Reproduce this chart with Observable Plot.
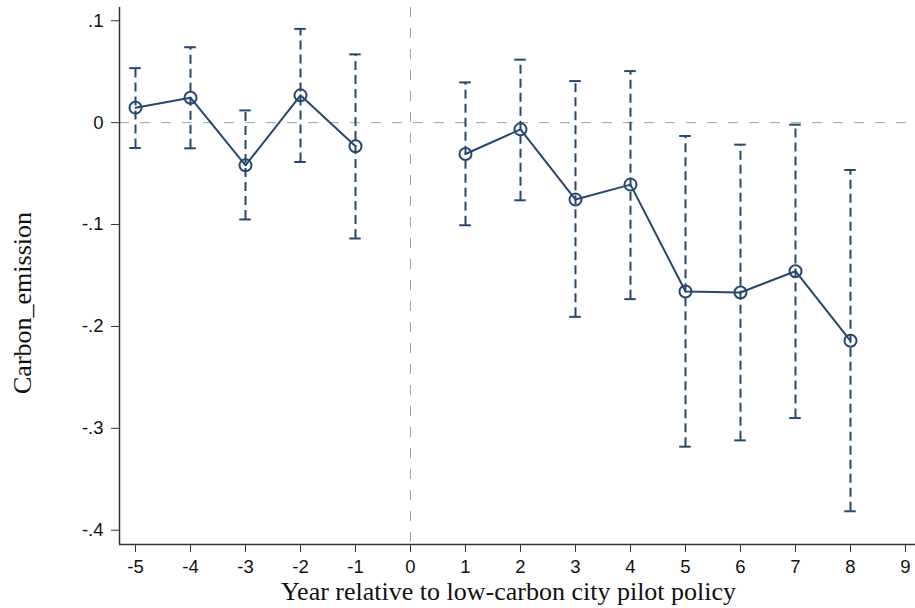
<!DOCTYPE html>
<html>
<head>
<meta charset="utf-8">
<script src="https://cdn.jsdelivr.net/npm/d3@7"></script>
<script src="https://cdn.jsdelivr.net/npm/@observablehq/plot@0.6"></script>
<style>
  html, body { margin: 0; padding: 0; background: #fff; }
  #chart g[aria-label="x-axis tick label"],
  #chart g[aria-label="y-axis tick label"] { font-size: 18.5px; font-family: 'Liberation Sans', Arial, sans-serif; }
</style>
</head>
<body>
<div id="chart"></div>
<script>
// Event-study estimates
const years    = [-5, -4, -3, -2, -1, 1, 2, 3, 4, 5, 6, 7, 8];
const estimate = [0.0147, 0.0245, -0.0419, 0.0268, -0.0232, -0.0308, -0.0066, -0.0755, -0.0608, -0.1657, -0.1667, -0.1458, -0.2141];
const ciUpper  = [0.0535, 0.0740, 0.0120, 0.0920, 0.0670, 0.0395, 0.0618, 0.0408, 0.0506, -0.0131, -0.0216, -0.0020, -0.0465];
const ciLower  = [-0.0249, -0.0252, -0.0950, -0.0386, -0.1137, -0.1007, -0.0762, -0.1906, -0.1732, -0.3180, -0.3118, -0.2899, -0.3814];

const xTicks = [-5, -4, -3, -2, -1, 0, 1, 2, 3, 4, 5, 6, 7, 8, 9];
const yTicks = [0.1, 0, -0.1, -0.2, -0.3, -0.4];
const xDomain = [-5.291, 9.182];
const yDomain = [-0.414, 0.113];
const xTitle = "Year relative to low-carbon city pilot policy";
const yTitle = "Carbon_emission";

const data = years.map((y, i) => ({
  year: y, est: estimate[i], hi: ciUpper[i], lo: ciLower[i],
  period: y < 0 ? "pre" : "post"
}));

const navy = "#26476e";
const refColor = "#8fab9d";
const capHalf = 0.105;
const fmtY = d => d === 0 ? "0" : d.toFixed(1).replace("0.", ".");
const serif = "'Liberation Serif', 'Times New Roman', serif";

const chart = Plot.plot({
  width: 915,
  height: 608,
  marginLeft: 119,
  marginRight: 0,
  marginTop: 7,
  marginBottom: 64,
  style: { fontFamily: "'Liberation Sans', Arial, sans-serif", fontSize: "18.5px", background: "#fff" },
  x: { domain: xDomain, label: null },
  y: { domain: yDomain, label: null },
  marks: [
    Plot.ruleY([0], { stroke: refColor, strokeWidth: 1, strokeDasharray: "10,11" }),
    Plot.ruleX([0], { stroke: refColor, strokeWidth: 1, strokeDasharray: "10,11" }),
    // axis lines
    Plot.ruleX([xDomain[0]], { stroke: "#333", strokeWidth: 1.5 }),
    Plot.ruleY([yDomain[0]], { stroke: "#333", strokeWidth: 1.5 }),
    Plot.axisY({ ticks: yTicks, tickFormat: fmtY, tickSize: 8, tickPadding: 8, fontSize: 18.5, stroke: "#333", fill: "#111", label: null }),
    Plot.axisX({ ticks: xTicks, tickFormat: d => String(d), tickSize: 8, tickPadding: 7, fontSize: 18.5, stroke: "#333", fill: "#111", label: null }),
    // CI bars
    Plot.ruleX(data, { x: "year", y1: "lo", y2: "hi", stroke: navy, strokeWidth: 2, strokeDasharray: "9,5" }),
    Plot.ruleY(data, { y: "hi", x1: d => d.year - capHalf, x2: d => d.year + capHalf, stroke: navy, strokeWidth: 2 }),
    Plot.ruleY(data, { y: "lo", x1: d => d.year - capHalf, x2: d => d.year + capHalf, stroke: navy, strokeWidth: 2 }),
    // point estimates
    Plot.line(data, { x: "year", y: "est", z: "period", stroke: navy, strokeWidth: 2 }),
    Plot.dot(data, { x: "year", y: "est", r: 6, stroke: navy, strokeWidth: 2, fill: "none" }),
    // titles
    Plot.text([xTitle], { frameAnchor: "bottom", textAnchor: "middle", dx: -9, dy: 47, fontFamily: serif, fontSize: 26, fill: "#111", lineAnchor: "middle" }),
    Plot.text([yTitle], { frameAnchor: "left", textAnchor: "middle", dx: -97, dy: 27, rotate: -90, fontFamily: serif, fontSize: 26, fill: "#111", lineAnchor: "middle" })
  ]
});

document.getElementById("chart").appendChild(chart);
</script>
</body>
</html>
